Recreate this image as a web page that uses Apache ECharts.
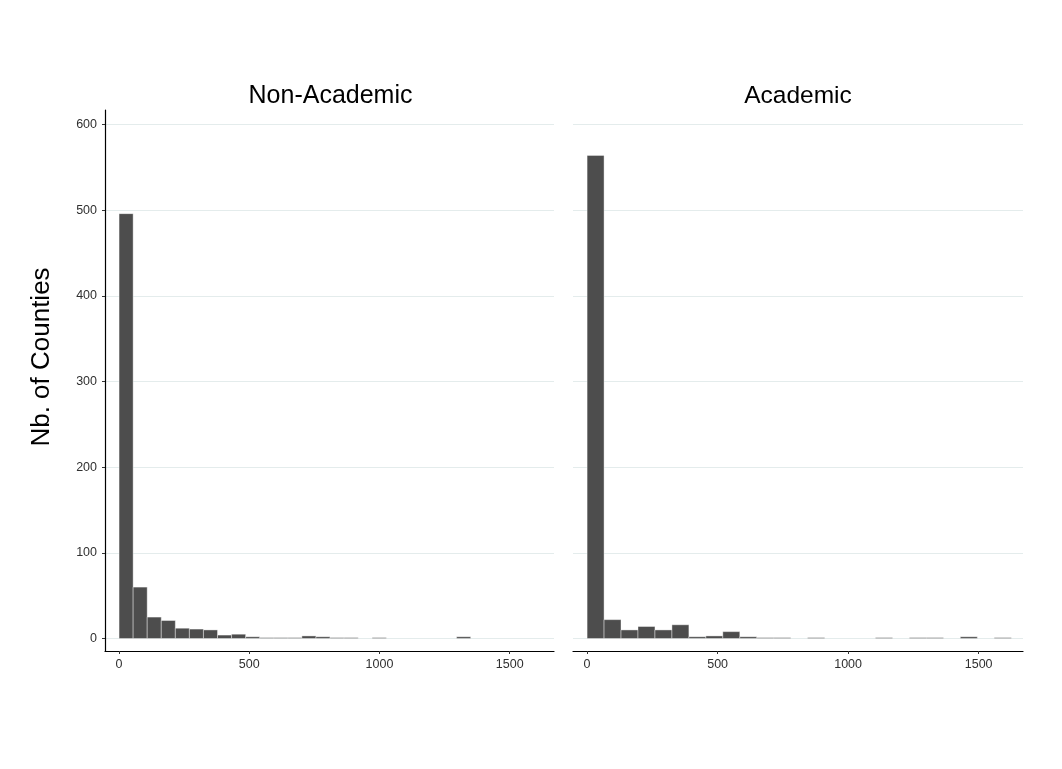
<!DOCTYPE html>
<html>
<head>
<meta charset="utf-8">
<script src="https://cdn.jsdelivr.net/npm/echarts@6/dist/echarts.min.js"></script>
<style>
html,body{margin:0;padding:0;background:#fff;}
#chart{width:1062px;height:769px;}
</style>
</head>
<body>
<div id="chart"></div>
<script>
// ---- Data ----
const panelTitles = ['Non-Academic', 'Academic'];
const xTickValues = [0, 500, 1000, 1500];
const yTickValues = [0, 100, 200, 300, 400, 500, 600];
const binStart = 0;
const nonAcademicBinWidth = 54;
const academicBinWidth = 65;
const nonAcademicCounts = [496, 60, 25, 21, 12, 11, 10, 4, 5, 2, 1, 1, 1, 3, 2, 1, 1, 0, 1, 0, 0, 0, 0, 0, 2];
const academicCounts = [564, 22, 10, 14, 10, 16, 2, 3, 8, 2, 1, 1, 0, 1, 0, 0, 0, 1, 0, 1, 1, 0, 2, 0, 1];
const yAxisTitle = 'Nb. of Counties';

function bins(counts, width) {
  return counts.map((c, i) => [binStart + i * width, binStart + (i + 1) * width, c]);
}

const chart = echarts.init(document.getElementById('chart'), null, {renderer: 'canvas'});

const labelColor = '#303030';
const gridColor = '#e4ecec';
const font = 'Liberation Sans, Arial, sans-serif';

function renderHist(params, api) {
  const c = api.value(2);
  if (!c) return null;
  const p0 = api.coord([api.value(0), c]);
  const p1 = api.coord([api.value(1), 0]);
  return {
    type: 'rect',
    shape: {x: p0[0], y: p0[1], width: p1[0] - p0[0], height: p1[1] - p0[1]},
    style: {fill: '#4d4d4d', stroke: '#ffffff', lineWidth: 0.4}
  };
}

const grids = [
  {left: 105, top: 110, width: 449, height: 541},
  {left: 573, top: 110, width: 450, height: 541}
];

function xAxis(i) {
  return {
    type: 'value', gridIndex: i, min: -54, max: 1670,
    axisLine: {show: true, onZero: false, lineStyle: {color: '#000', width: 1.2}},
    axisTick: {show: true, length: 3, customValues: xTickValues, lineStyle: {color: '#333'}},
    axisLabel: {show: true, customValues: xTickValues, formatter: v => String(v), color: labelColor, fontSize: 12.5, fontFamily: font, margin: 7},
    splitLine: {show: false}
  };
}
function yAxis(i) {
  const left = i === 0;
  return {
    type: 'value', gridIndex: i, min: -14.6, max: 617,
    axisLine: {show: left, onZero: false, lineStyle: {color: '#000', width: 1.2}},
    axisTick: {show: left, length: 3, customValues: yTickValues, lineStyle: {color: '#333'}},
    axisLabel: {show: left, customValues: yTickValues, formatter: v => String(v), color: labelColor, fontSize: 12.5, fontFamily: font, margin: 8},
    splitLine: {show: true, lineStyle: {color: gridColor, width: 1}}
  };
}

const option = {
  animation: false,
  backgroundColor: '#ffffff',
  title: panelTitles.map((t, i) => ({
    text: t,
    left: grids[i].left + grids[i].width / 2 - (i === 0 ? 4 : 5),
    top: 79,
    textAlign: 'center',
    textStyle: {fontSize: i === 0 ? 25 : 24.5, fontWeight: 'normal', color: '#000', fontFamily: font}
  })),
  graphic: [{
    type: 'text',
    x: 42, y: 357,
    rotation: Math.PI / 2,
    style: {text: yAxisTitle, fontSize: 26, fill: '#000', font: '26px ' + font, textAlign: 'center', textVerticalAlign: 'middle'}
  }],
  grid: grids,
  xAxis: [xAxis(0), xAxis(1)],
  yAxis: [yAxis(0), yAxis(1)],
  series: [
    {type: 'custom', xAxisIndex: 0, yAxisIndex: 0, renderItem: renderHist, data: bins(nonAcademicCounts, nonAcademicBinWidth), encode: {x: [0, 1], y: 2}},
    {type: 'custom', xAxisIndex: 1, yAxisIndex: 1, renderItem: renderHist, data: bins(academicCounts, academicBinWidth), encode: {x: [0, 1], y: 2}}
  ]
};
chart.setOption(option);
</script>
</body>
</html>
